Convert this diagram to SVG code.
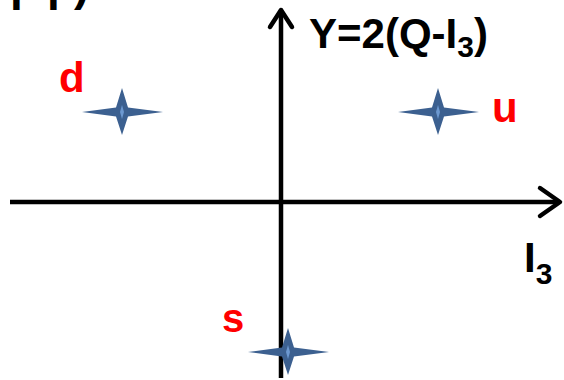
<svg xmlns="http://www.w3.org/2000/svg" width="564" height="380" viewBox="0 0 564 380">
<style>
.lbl{font-family:"Liberation Sans",Arial,sans-serif;font-weight:bold;fill:#ff0000;}
.ax{font-family:"Liberation Sans",Arial,sans-serif;font-weight:bold;fill:#000;}
.axis{stroke:#000;stroke-width:4.5;fill:none;}
.head{stroke:#000;stroke-width:4.5;fill:none;stroke-linecap:round;stroke-linejoin:round;}
.star{fill:#3c6090;}
.core{fill:#6c98d0;}
</style>
<defs>
<g id="star">
<polygon class="star" points="-40,0 -6,-4.5 0,-24 6,-4.5 41,0 6,4.5 0,23 -6,4.5"/>
<polygon class="core" points="-2,0 0,-7 2,0 0,7"/>
</g>
</defs>
<rect width="564" height="380" fill="#fff"/>
<text class="ax" y="-0.5" font-size="46"><tspan x="10">p</tspan><tspan x="47">p</tspan><tspan x="74">)</tspan></text>
<g id="connectors">
<line class="axis" x1="10" y1="202" x2="559" y2="202"/>
<polyline class="head" points="540,188 560,202 540,216"/>
<line class="axis" x1="281" y1="378" x2="281" y2="11"/>
<polyline class="head" points="270,27 281,10 292,27"/>
</g>
<g id="axis-y-label"><text class="ax" x="309" y="48" font-size="42">Y=2(Q-I<tspan font-size="30" dy="9">3</tspan><tspan dy="-9">)</tspan></text></g>
<g id="axis-x-label"><text class="ax" x="524" y="272" font-size="42">I<tspan font-size="30" dy="12">3</tspan></text></g>
<g id="node-d"><use href="#star" x="122" y="112"/><text class="lbl" x="59" y="92" font-size="42">d</text></g>
<g id="node-u"><use href="#star" x="438" y="112"/><text class="lbl" x="492" y="122" font-size="42">u</text></g>
<g id="node-s"><use href="#star" x="288" y="352"/><text class="lbl" x="222" y="332" font-size="40">s</text></g>
</svg>
